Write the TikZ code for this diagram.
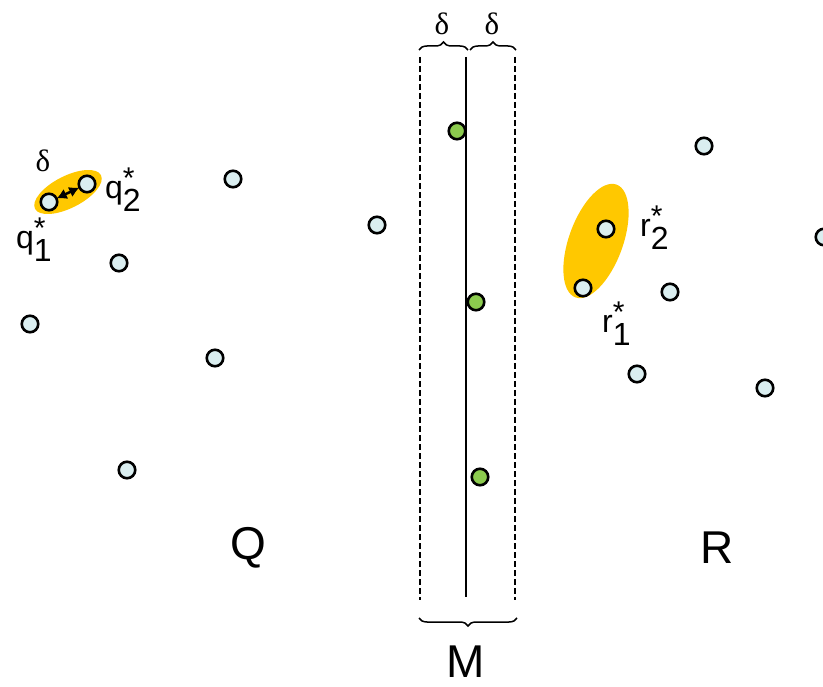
\documentclass[tikz,border=0pt]{standalone}
\usepackage{fontspec}
\setmainfont{Liberation Sans}
\newfontfamily\serifdelta{Liberation Serif}
\usetikzlibrary{decorations.pathreplacing,arrows.meta}
\newcommand\starlab[2]{#1\rlap{\raisebox{0.30em}{\fontsize{30}{30}\selectfont *}}\raisebox{-0.42em}{#2}}
\tikzset{
  pt/.style={circle,draw=black,line width=2.6pt,fill=ptfill,minimum size=16.5pt,inner sep=0pt},
  gpt/.style={circle,draw=black,line width=2.6pt,fill=gfill,minimum size=16.5pt,inner sep=0pt},
  lab/.style={font=\fontsize{32}{32}\selectfont,inner sep=0pt,anchor=west},
  big/.style={font=\fontsize{46}{46}\selectfont,inner sep=0pt},
  dl/.style={font=\serifdelta\fontsize{31}{31}\selectfont,inner sep=0pt},
  brc/.style={decorate,decoration={brace,amplitude=8pt},line width=1.5pt},
  blob/.style={fill=blobfill,draw=none},
  dsh/.style={dash pattern=on 6pt off 3pt,line width=1.5pt}
}
\definecolor{ptfill}{HTML}{DAEEF0}
\definecolor{gfill}{HTML}{8CCB4E}
\definecolor{blobfill}{HTML}{FFC800}
\begin{document}
\begin{tikzpicture}[x=1pt,y=-1pt]
\useasboundingbox (0,0) rectangle (823,687);
% strip
\draw[dsh] (420,57) -- (420,600);
\draw[dsh] (515,57) -- (515,600);
\draw[line width=1.8pt] (466,57) -- (466,597);
\coordinate (b1a) at (419,50); \coordinate (b1b) at (468,50);
\coordinate (b2a) at (470,50); \coordinate (b2b) at (516,50);
\coordinate (b3a) at (517,618); \coordinate (b3b) at (419,618);
\draw[brc] (b1a) -- (b1b);
\draw[brc] (b2a) -- (b2b);
\draw[brc] (b3a) -- (b3b);
\node[dl] (d1) at (442,24) {δ};
\node[dl] (d2) at (492,24) {δ};
\node[big] (M) at (466,662) {M};
% blobs
\fill[blob] (68,192) ellipse[x radius=37pt,y radius=16pt,rotate=27];
\fill[blob] (596,241) ellipse[x radius=60pt,y radius=27pt,rotate=70];
% Q points
\node[pt] (q1) at (49,202) {};
\node[pt] (q2) at (87,184) {};
\node[pt] (a1) at (233,179) {};
\node[pt] (a2) at (377,225) {};
\node[pt] (a3) at (119,263) {};
\node[pt] (a4) at (30,324) {};
\node[pt] (a5) at (215,358) {};
\node[pt] (a6) at (127,470) {};
\draw[{Latex[length=10pt,width=11pt]}-{Latex[length=10pt,width=11pt]},line width=2.5pt,shorten <=-1pt,shorten >=-1pt] (q1) -- (q2);
% R points
\node[pt] (b1) at (704,146) {};
\node[pt] (r2) at (606,229) {};
\node[pt] (b2) at (824,237) {};
\node[pt] (r1) at (583,288) {};
\node[pt] (b3) at (670,292) {};
\node[pt] (b4) at (637,374) {};
\node[pt] (b5) at (765,388) {};
% green
\node[gpt] (g1) at (457,131) {};
\node[gpt] (g2) at (476,302) {};
\node[gpt] (g3) at (480,477) {};
% labels
\node[dl] (dq) at (43,161) {δ};
\node[lab] (lq2) at (105,190) {\starlab{q}{2}};
\node[lab] (lq1) at (16,240) {\starlab{q}{1}};
\node[lab] (lr2) at (640,228) {\starlab{r}{2}};
\node[lab] (lr1) at (602,324) {\starlab{r}{1}};
\node[big] (Q) at (248,548) {Q};
\node[big] (R) at (717,548) {R};
\end{tikzpicture}
\end{document}
